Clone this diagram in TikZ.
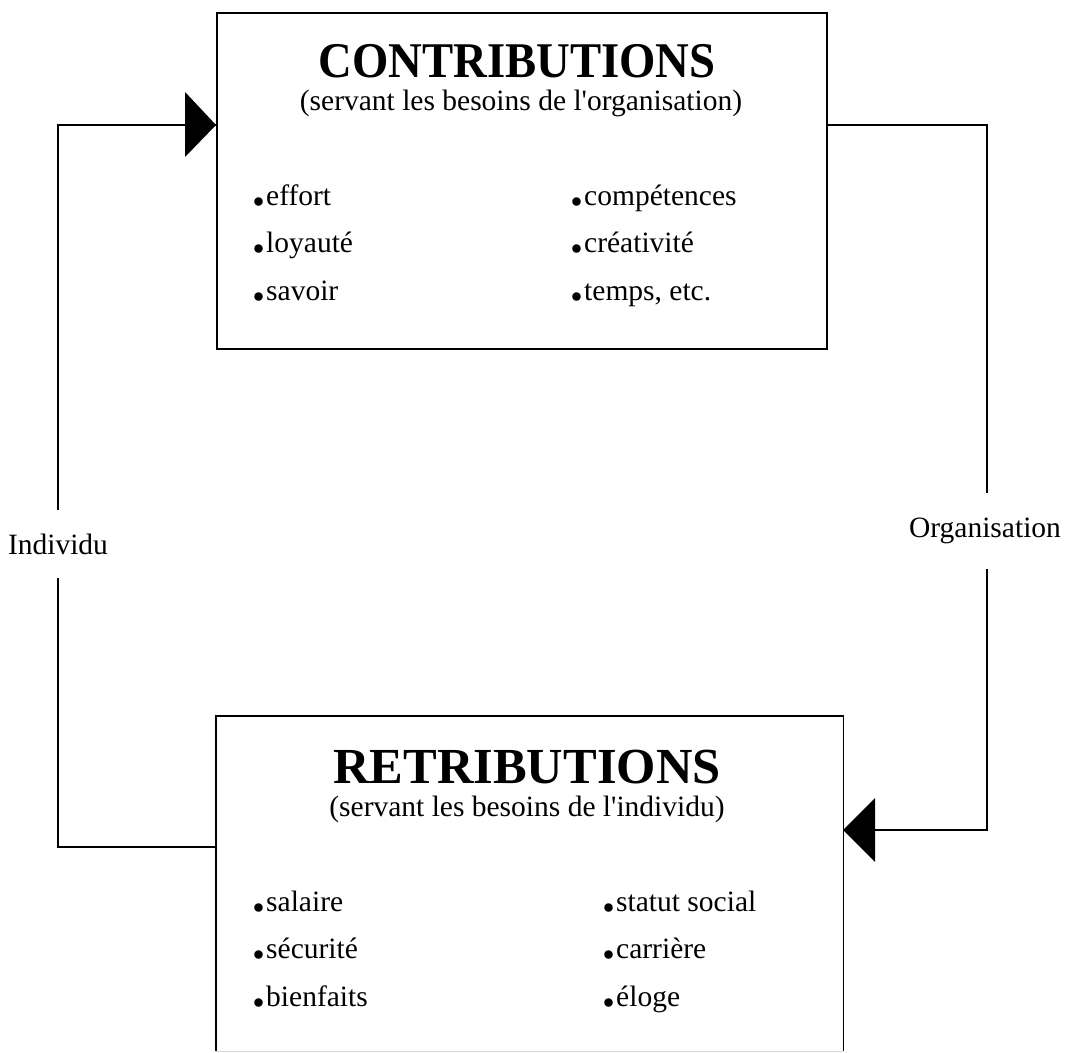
\documentclass[tikz,border=0pt]{standalone}
\usepackage{fontspec}
\setmainfont{Liberation Serif}
\newcommand{\bdot}{\makebox[14pt][l]{\fontsize{52}{52}\selectfont\bfseries .}}
\begin{document}
\begin{tikzpicture}[x=1pt,y=-1pt,
  box/.style={draw,line width=1.6pt},
  edge/.style={line width=1.6pt},
  conn/.style={line width=1.3pt},
  ttl/.style={anchor=base, inner sep=0pt},
  sub/.style={font=\fontsize{29.5}{30}\selectfont, anchor=base, inner sep=0pt},
  item/.style={font=\fontsize{29.5}{30}\selectfont, anchor=base west, inner sep=0pt},
  lbl/.style={font=\fontsize{29.5}{30}\selectfont, fill=white, inner xsep=0pt, inner ysep=0pt},
  tri/.style={fill=black}]
\useasboundingbox (0,0) rectangle (1065,1052);
% top box
\node[box, minimum width=610pt, minimum height=336pt, anchor=north west, inner sep=0pt] (top) at (216,12) {};
\node[ttl] (t1) at (517,77) {\scalebox{1}[1.07]{\fontsize{46.7}{47}\selectfont\bfseries CONTRIBUTIONS}};
\node[sub] (t2) at (521,110) {(servant les besoins de l\textquotesingle organisation)};
\node[item] (a1) at (252,205) {\bdot effort};
\node[item] (a2) at (252,252) {\bdot loyauté};
\node[item] (a3) at (252,300) {\bdot savoir};
\node[item] (a4) at (570,205) {\bdot compétences};
\node[item] (a5) at (570,252) {\bdot créativité};
\node[item] (a6) at (570,300) {\bdot temps, etc.};
% bottom box (its lower edge is at the page edge, barely visible)
\node[minimum width=627pt, minimum height=335pt, anchor=north west, inner sep=0pt] (bot) at (216,716) {};
\draw[edge] (bot.south west) -- (bot.north west) -- (bot.north east) -- (bot.south east);
\draw[line width=1pt, black!15] (bot.south west) -- (bot.south east);
\node[ttl] (b1) at (527,783) {{\fontsize{50.5}{51}\selectfont\bfseries RETRIBUTIONS}};
\node[sub] (b2) at (527,816) {(servant les besoins de l\textquotesingle individu)};
\node[item] (c1) at (252,911) {\bdot salaire};
\node[item] (c2) at (252,958) {\bdot sécurité};
\node[item] (c3) at (252,1006) {\bdot bienfaits};
\node[item] (c4) at (602,911) {\bdot statut social};
\node[item] (c5) at (602,958) {\bdot carrière};
\node[item] (c6) at (602,1006) {\bdot éloge};
% connectors
\coordinate (lb) at (216,847);
\coordinate (lt) at (216,125);
\coordinate (rt) at (826,125);
\coordinate (rb) at (843,830);
\draw[conn] (lb) -- (58,847) -- (58,125) -- (lt);
\draw[conn] (rt) -- (987,125) -- (987,830) -- (rb);
\fill[tri] (lt) -- (185,92) -- (185,157) -- cycle;
\fill[tri] (rb) -- (875,798) -- (875,862) -- cycle;
\node[lbl, minimum height=68pt] (ind) at (58,544) {Individu};
\node[lbl, minimum height=76pt] (org) at (985,531) {Organisation};
\end{tikzpicture}
\end{document}
